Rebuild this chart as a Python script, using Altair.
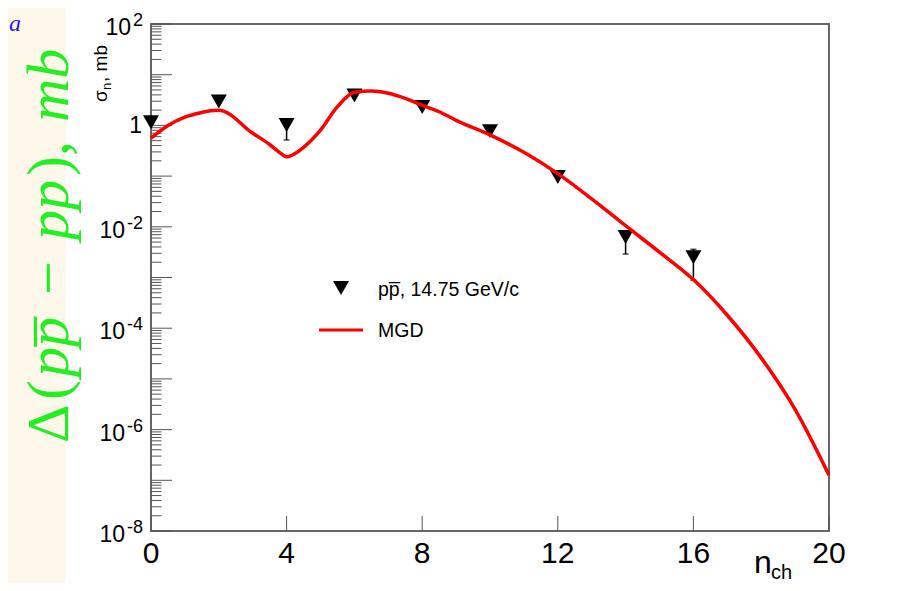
import altair as alt
import pandas as pd

# ---------------- data ----------------
n_data = [0, 2, 4, 6, 8, 10, 12, 14, 16]
sigma_data = [1.15, 2.95, 1.02, 3.9, 2.3, 0.77, 0.096, 0.0063, 0.0025]

err_n = [4, 14, 16]
err_lo = [0.515, 0.0029, 0.00089]
err_hi = [1.3, 0.0082, 0.0036]

mgd_n = [0, 0.5, 1.0, 1.5, 1.75, 2.0, 3.0, 3.5, 3.8, 4.0, 4.25, 4.5, 5.0, 5.5,
         6.0, 6.5, 7.0, 7.5, 8.0, 8.5, 9.0, 10.0, 11.0, 12.0, 13.0, 14.0,
         15.0, 16.0, 17.0, 18.0, 19.0, 20.0]
mgd_sigma = [0.56, 1.0, 1.46, 1.8, 1.95, 2.0, 0.7, 0.42, 0.29, 0.24, 0.28, 0.37,
             0.81, 2.34, 4.5, 4.78, 4.3, 3.4, 2.5, 1.86, 1.26, 0.65, 0.295,
             0.112, 0.0355, 0.0105, 0.00316, 0.00091, 1.8e-4, 2.6e-5, 2.5e-6,
             1.26e-7]

x_tick_values = [0, 4, 8, 12, 16, 20]
x_tick_labels = ["0", "4", "8", "12", "16", "20"]
y_decades = list(range(-8, 3))
y_minor_mult = [2, 3, 4, 5, 6, 7, 8, 9]
y_label_exps = [2, 0, -2, -4, -6, -8]

legend_data_label = "pp\u0305, 14.75 GeV/c"
legend_line_label = "MGD"

# ---------------- geometry ----------------
W, H = 678, 507
PAD = {"left": 143, "top": 16, "right": 60, "bottom": 52}

xs = alt.Scale(domain=[0, 20], nice=False, zero=False)
ys = alt.Scale(type="log", domain=[1e-8, 1e2], nice=False)

df_pts = pd.DataFrame({"n": n_data, "s": sigma_data})
df_err = pd.DataFrame({"n": err_n, "lo": err_lo, "hi": err_hi})
df_mgd = pd.DataFrame({"n": mgd_n, "s": mgd_sigma})
df_major = pd.DataFrame({"s": [10.0 ** k for k in y_decades]})
df_minor = pd.DataFrame({"s": [m * 10.0 ** k for k in y_decades[:-1] for m in y_minor_mult]})
df_xt = pd.DataFrame({"n": x_tick_values, "lab": x_tick_labels})
df_ylab = pd.DataFrame({
    "s": [10.0 ** e for e in y_label_exps],
    "base": ["1" if e == 0 else "10" for e in y_label_exps],
    "sup": ["" if e == 0 else str(e) for e in y_label_exps],
    "e": y_label_exps,
})
one = pd.DataFrame({"k": [0]})

TICK = "#555555"
TRI = "M-1,-0.87L1,-0.87L0,0.87Z"
GREEN = "#22ee22"
SANS = "Liberation Sans"
SERIF = "Liberation Serif"


def label(text, x, y, size, color="black", font=SANS, style="normal", angle=0,
          align="left", baseline="alphabetic"):
    return alt.Chart(one).mark_text(
        text=text, fontSize=size, color=color, font=font, fontStyle=style,
        angle=angle, align=align, baseline=baseline
    ).encode(x=alt.value(x), y=alt.value(y))


X = alt.X("n:Q", scale=xs, axis=None)

# background strip on the left
strip = alt.Chart(one).mark_rect(color="#fdf8ea").encode(
    x=alt.value(-PAD["left"]), x2=alt.value(66 - 151),
    y=alt.value(-PAD["top"]), y2=alt.value(H + PAD["bottom"]))

# y ticks (inside)
maj = alt.Chart(df_major).mark_rule(color=TICK, strokeWidth=1).encode(
    y=alt.Y("s:Q", scale=ys, axis=None), x=alt.value(0), x2=alt.value(21))
mnr = alt.Chart(df_minor).mark_rule(color=TICK, strokeWidth=1).encode(
    y=alt.Y("s:Q", scale=ys, axis=None), x=alt.value(0), x2=alt.value(10.5))
# x ticks (inside)
xtk = alt.Chart(df_xt).mark_rule(color=TICK, strokeWidth=1).encode(
    x=X, y=alt.value(H), y2=alt.value(H - 15))
# x labels
xlab = alt.Chart(df_xt).mark_text(fontSize=30, font=SANS, align="center",
                                  baseline="alphabetic").encode(
    x=X, y=alt.value(539), text="lab:N")

# y labels
Yl = alt.Y("s:Q", scale=ys, axis=None)
ylab_one = alt.Chart(df_ylab).transform_filter("datum.e == 0").mark_text(
    fontSize=23, font=SANS, align="right", baseline="alphabetic", dy=8
).encode(y=Yl, x=alt.value(-9), text="base:N")
ylab_base1 = alt.Chart(df_ylab).transform_filter("datum.e > 0").mark_text(
    fontSize=23, font=SANS, align="right", baseline="alphabetic", dy=11
).encode(y=Yl, x=alt.value(-20), text="base:N")
ylab_base2 = alt.Chart(df_ylab).transform_filter("datum.e < 0").mark_text(
    fontSize=23, font=SANS, align="right", baseline="alphabetic", dy=11
).encode(y=Yl, x=alt.value(-26), text="base:N")
ylab_sup = alt.Chart(df_ylab).transform_filter("datum.e != 0").mark_text(
    fontSize=18, font=SANS, align="right", baseline="alphabetic", dy=2
).encode(y=Yl, x=alt.value(-8), text="sup:N")

# data: error bars, markers
ebar = alt.Chart(df_err).mark_rule(color="black", strokeWidth=1.5).encode(
    x=X, y=alt.Y("lo:Q", scale=ys, axis=None), y2="hi:Q")
ecap_lo = alt.Chart(df_err).mark_tick(orient="horizontal", size=6, thickness=1.5,
                                      color="black").encode(
    x=X, y=alt.Y("lo:Q", scale=ys, axis=None))
ecap_hi = alt.Chart(df_err).mark_tick(orient="horizontal", size=6, thickness=1.5,
                                      color="black").encode(
    x=X, y=alt.Y("hi:Q", scale=ys, axis=None))
pts = alt.Chart(df_pts).mark_point(shape=TRI, filled=True, size=256, color="black",
                                   opacity=1).encode(
    x=X, y=alt.Y("s:Q", scale=ys, axis=None))
curve = alt.Chart(df_mgd).mark_line(color="#ff0000", strokeWidth=3.5,
                                    interpolate="monotone").encode(
    x=X, y=alt.Y("s:Q", scale=ys, axis=None))

# legend
leg_pt = alt.Chart(one).mark_point(shape=TRI, filled=True, size=256, color="black",
                                   opacity=1).encode(x=alt.value(190), y=alt.value(264))
leg_ln = alt.Chart(one).mark_rule(color="#ff0000", strokeWidth=3).encode(
    x=alt.value(168), x2=alt.value(212), y=alt.value(306))
leg_t1 = label(legend_data_label, 227, 272, 19.5)
leg_t2 = label(legend_line_label, 227, 313, 19.5)

# axis titles
ytit = [
    label("\u03c3", -44, 78, 19, angle=270),
    label("n", -40, 66, 13, angle=270),
    label(", mb", -44, 58, 19, angle=270),
]
xtit = [
    label("n", 603, 549, 32),
    label("ch", 620, 555, 20),
]

# big green title (rotated)
gt = [
    label("\u0394", -83, 419, 60, color=GREEN, font=SERIF, angle=270),
    label("(", -83, 376, 60, color=GREEN, font=SERIF, angle=270),
    label("pp\u0305", -83, 353, 60, color=GREEN, font=SERIF, style="italic", angle=270),
    label("\u2212", -83, 271, 60, color=GREEN, font=SERIF, angle=270),
    label("pp", -83, 216, 60, color=GREEN, font=SERIF, style="italic", angle=270),
    label("),", -83, 152, 60, color=GREEN, font=SERIF, angle=270),
    label("mb", -83, 98, 60, color=GREEN, font=SERIF, style="italic", angle=270),
]
blue_a = label("a", -142, 7, 24, color="#1a1aee", font=SERIF, style="italic")

chart = alt.layer(
    strip, maj, mnr, xtk, xlab, ylab_one, ylab_base1, ylab_base2, ylab_sup,
    ebar, ecap_lo, ecap_hi, pts, curve,
    leg_pt, leg_ln, leg_t1, leg_t2, *ytit, *xtit, *gt, blue_a
).properties(
    width=W, height=H, padding=PAD,
    autosize=alt.AutoSizeParams(type="none"),
    background="white",
).configure_view(stroke="#666666", strokeWidth=2)

chart.save("out.html", embed_options={"renderer": "svg", "actions": False})
